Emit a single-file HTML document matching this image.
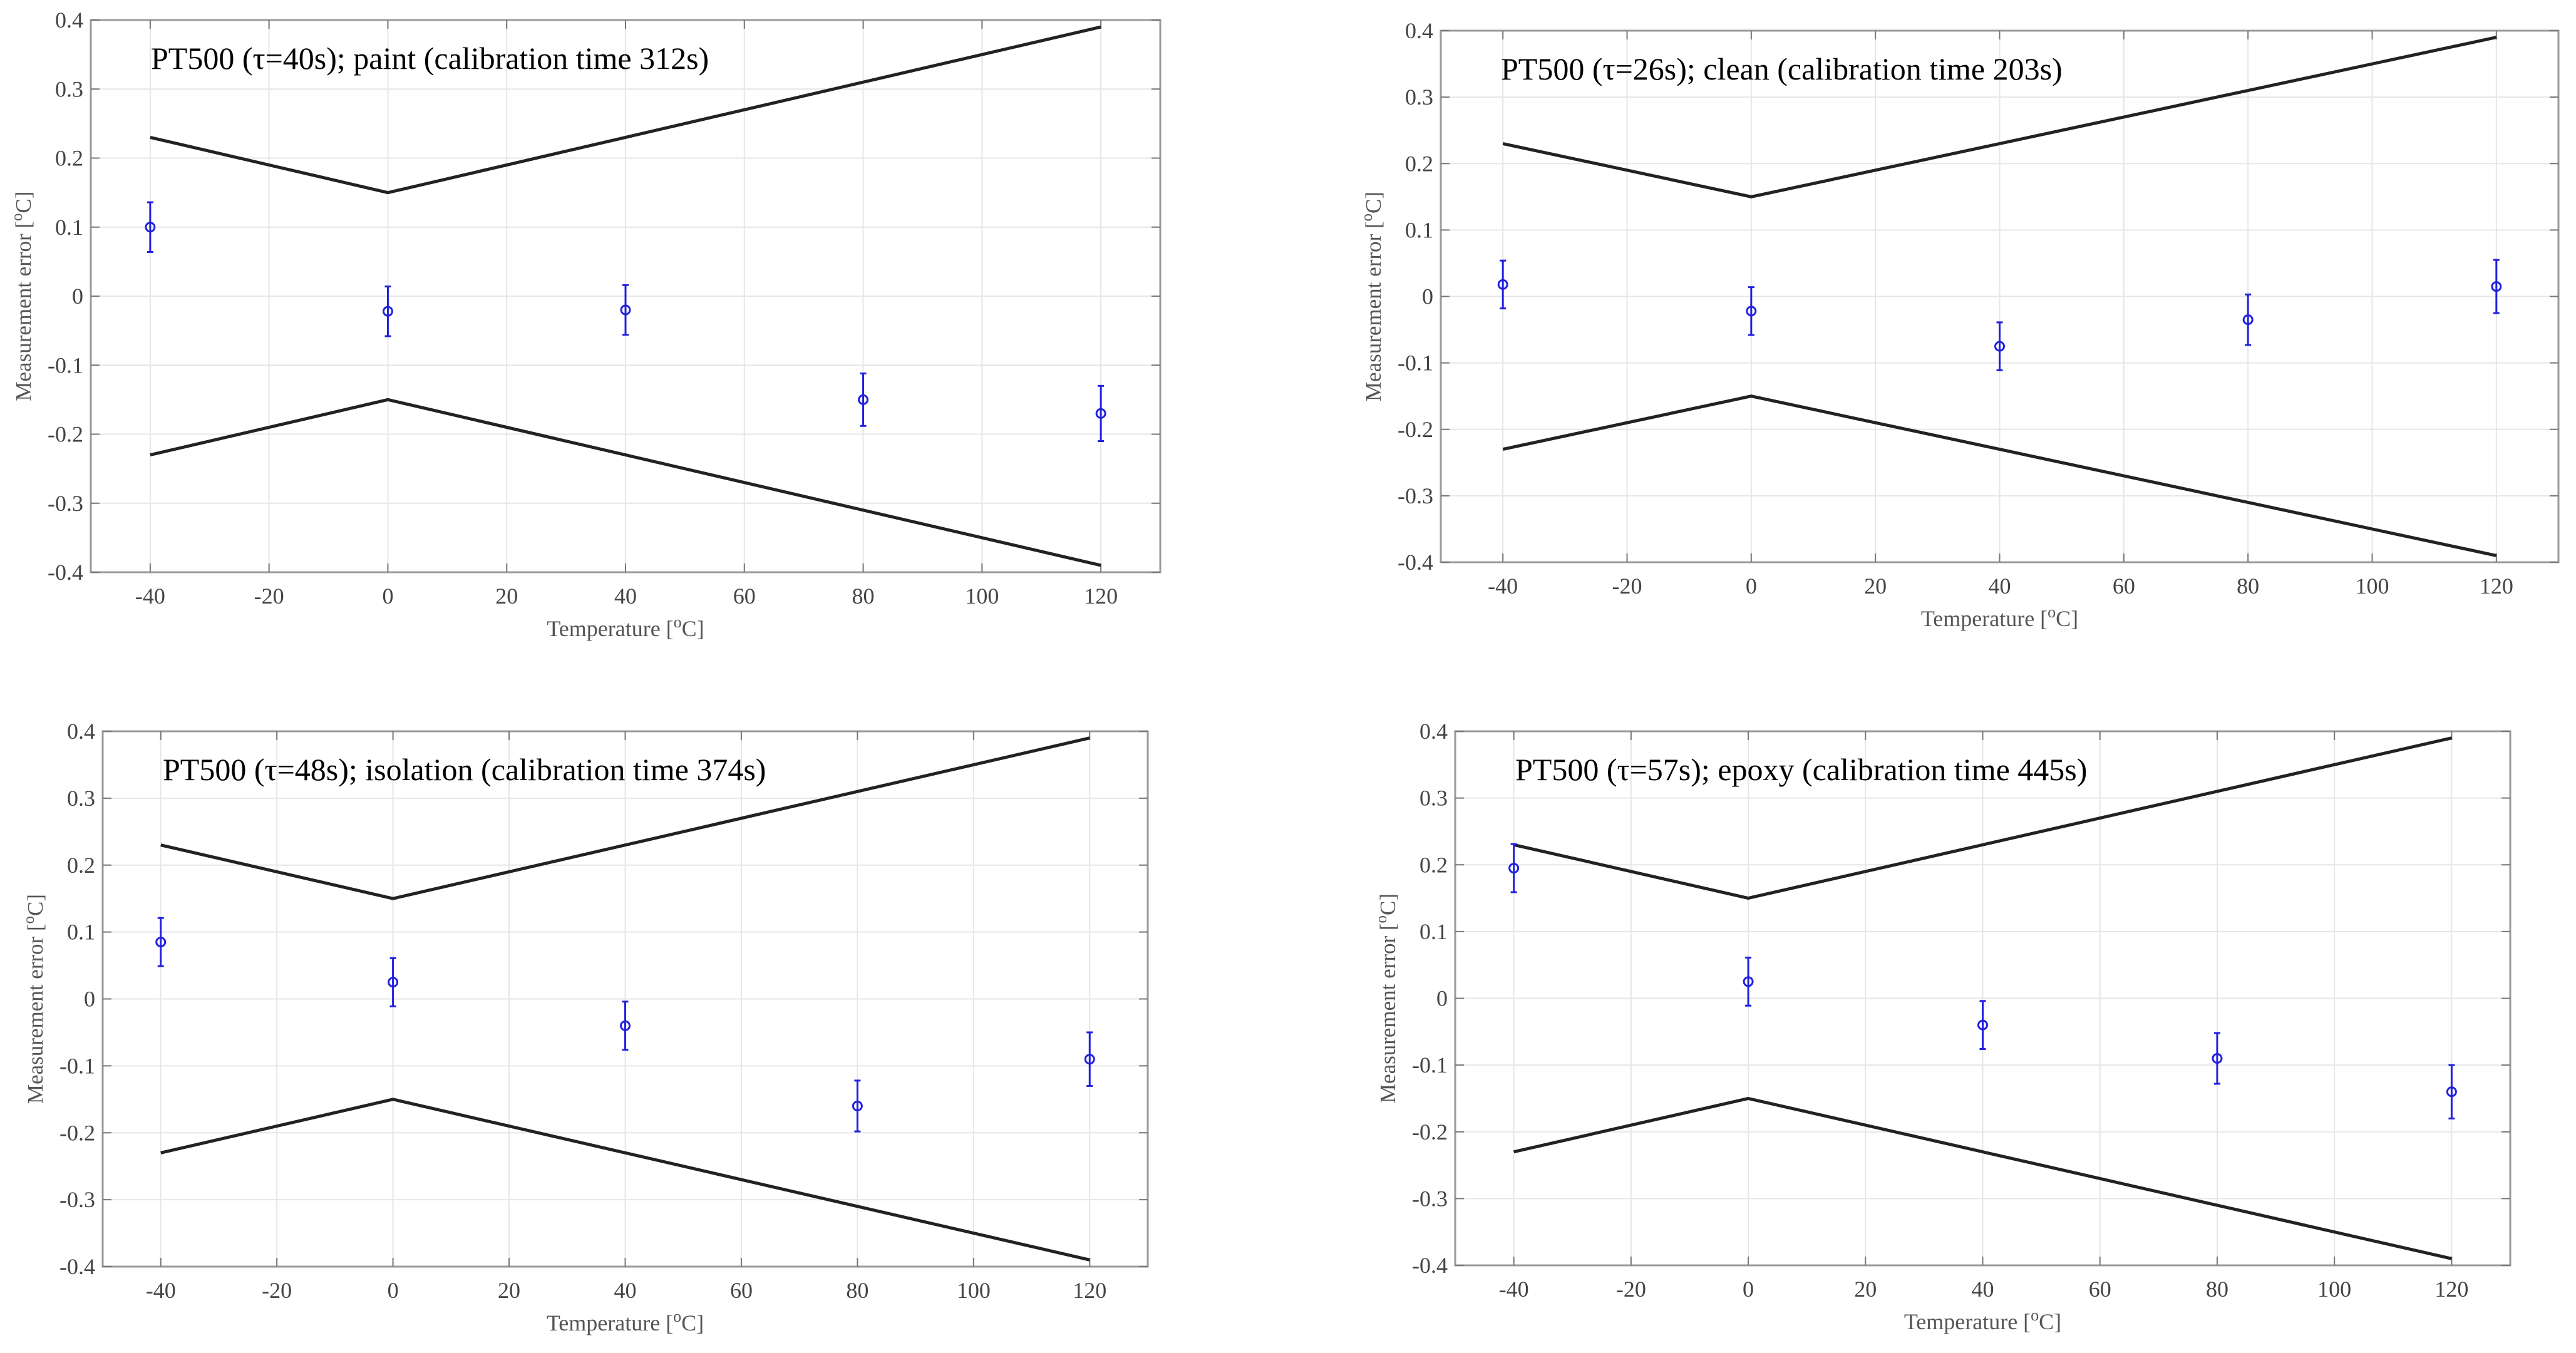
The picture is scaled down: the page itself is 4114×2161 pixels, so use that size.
<!DOCTYPE html>
<html><head><meta charset="utf-8">
<style>
html,body{margin:0;padding:0;background:#fff;}
svg{display:block;}
text{font-family:"Liberation Serif",serif;}
</style></head>
<body>
<svg id="chart" width="4114" height="2161" viewBox="0 0 4114 2161" xmlns="http://www.w3.org/2000/svg"></svg>
<script>
const xTicks = [-40,-20,0,20,40,60,80,100,120];
const yTicks = [0.4,0.3,0.2,0.1,0,-0.1,-0.2,-0.3,-0.4];
const yTickLabels = ["0.4","0.3","0.2","0.1","0","-0.1","-0.2","-0.3","-0.4"];
const temps = [-40,0,40,80,120];
const limitX = [-40,0,40,80,120];
const upperLimit = [0.23,0.15,0.23,0.31,0.39];
const lowerLimit = [-0.23,-0.15,-0.23,-0.31,-0.39];
const titles = ["PT500 (τ=40s); paint (calibration time 312s)","PT500 (τ=26s); clean (calibration time 203s)","PT500 (τ=48s); isolation (calibration time 374s)","PT500 (τ=57s); epoxy (calibration time 445s)"];
const paintErr = [0.10,-0.022,-0.02,-0.15,-0.17];
const cleanErr = [0.018,-0.022,-0.075,-0.035,0.015];
const isolationErr = [0.085,0.025,-0.04,-0.16,-0.09];
const epoxyErr = [0.195,0.025,-0.04,-0.09,-0.14];
const errBar = [0.036,0.036,0.036,0.038,0.04];
const series = [paintErr,cleanErr,isolationErr,epoxyErr];
const panels=[{l:145,r:1853,t:32,b:914,n:"paint"},{l:2301,r:4086,t:49,b:898,n:"clean"},{l:164,r:1833,t:1168,b:2023,n:"isolation"},{l:2324,r:4009,t:1168,b:2021,n:"epoxy"}];
const NS="http://www.w3.org/2000/svg";
const svg=document.getElementById('chart');
function mk(tag,attrs,parent){const e=document.createElementNS(NS,tag);for(const k in attrs)e.setAttribute(k,attrs[k]);(parent||svg).appendChild(e);return e;}
panels.forEach((p,i)=>{
  const g=mk('g',{});
  
  
  const sx=v=>p.l+(v+50)/180*(p.r-p.l);
  const sy=v=>p.t+(0.4-v)/0.8*(p.b-p.t);
  xTicks.forEach(v=>{const l=mk('line',{x1:sx(v),x2:sx(v),y1:p.t,y2:p.b,stroke:'#e6e6e6','stroke-width':2},g);
    
    });
  yTicks.forEach(v=>{const l=mk('line',{x1:p.l,x2:p.r,y1:sy(v),y2:sy(v),stroke:'#e6e6e6','stroke-width':2},g);
    
    });
  const box=mk('rect',{x:p.l,y:p.t,width:p.r-p.l,height:p.b-p.t,fill:'none',stroke:'#9a9a9a','stroke-width':3},g);
  
  
  xTicks.forEach(v=>{
    mk('line',{x1:sx(v),x2:sx(v),y1:p.b,y2:p.b-14,stroke:'#777','stroke-width':2},g);
    mk('line',{x1:sx(v),x2:sx(v),y1:p.t,y2:p.t+14,stroke:'#777','stroke-width':2},g);
    const t=mk('text',{x:sx(v),y:p.b+50,'text-anchor':'middle','font-size':36,fill:'#444'},g);t.textContent=String(v);
    
    
  });
  yTicks.forEach((v,k)=>{
    mk('line',{x1:p.l,x2:p.l+14,y1:sy(v),y2:sy(v),stroke:'#777','stroke-width':2},g);
    mk('line',{x1:p.r,x2:p.r-14,y1:sy(v),y2:sy(v),stroke:'#777','stroke-width':2},g);
    const t=mk('text',{x:p.l-12,y:sy(v)+12,'text-anchor':'end','font-size':36,fill:'#444'},g);t.textContent=yTickLabels[k];
    
    
  });
  const xt=mk('text',{x:(p.l+p.r)/2,y:p.b+102,'text-anchor':'middle','font-size':36,fill:'#555'},g);
  xt.innerHTML='Temperature [<tspan dy="-14" font-size="26">o</tspan><tspan dy="14">C]</tspan>';
  
  
  const cy=(p.t+p.b)/2, cx=p.l-96;
  const yt=mk('text',{x:cx,y:cy,'text-anchor':'middle','font-size':35,fill:'#555',transform:`rotate(-90 ${cx} ${cy})`},g);
  yt.innerHTML='Measurement error [<tspan dy="-14" font-size="25">o</tspan><tspan dy="14">C]</tspan>';
  
  
  const tt=mk('text',{x:p.l+96,y:p.t+78,'font-size':50,fill:'#000'},g);tt.textContent=titles[i];
  
  
  const up=mk('polyline',{points:limitX.map((x,k)=>sx(x)+','+sy(upperLimit[k])).join(' '),fill:'none',stroke:'#222','stroke-width':5},g);
  
  
  const lo=mk('polyline',{points:limitX.map((x,k)=>sx(x)+','+sy(lowerLimit[k])).join(' '),fill:'none',stroke:'#222','stroke-width':5},g);
  
  
  series[i].forEach((v,k)=>{
    const x=sx(temps[k]);
    const e=mk('g',{stroke:'#2020e0','stroke-width':3,fill:'none'},g);
    
    
    mk('line',{x1:x,x2:x,y1:sy(v+errBar[k]),y2:sy(v-errBar[k])},e);
    mk('line',{x1:x-5,x2:x+5,y1:sy(v+errBar[k]),y2:sy(v+errBar[k])},e);
    mk('line',{x1:x-5,x2:x+5,y1:sy(v-errBar[k]),y2:sy(v-errBar[k])},e);
    mk('circle',{cx:x,cy:sy(v),r:7},e);
  });
});
</script>
</body></html>
